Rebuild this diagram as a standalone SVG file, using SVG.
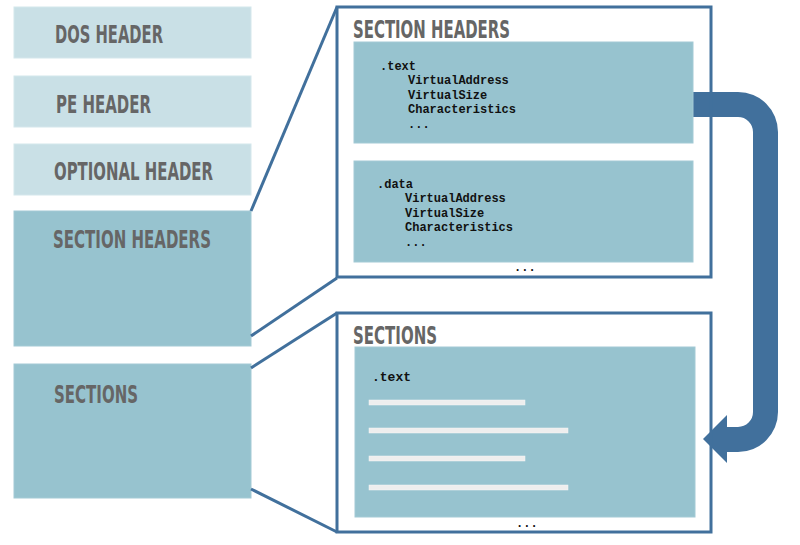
<svg xmlns="http://www.w3.org/2000/svg" width="800" height="545" viewBox="0 0 800 545">
<style>
.light{fill:#c9e0e6;stroke:#d4e7ec;stroke-width:1}
.dark{fill:#97c3cf;stroke:#a3cad5;stroke-width:1}
.frame{fill:none;stroke:#41709c;stroke-width:3}
.title{font-family:"DejaVu Sans Condensed","DejaVu Sans",sans-serif;font-weight:bold;font-size:25px;fill:#666666}
.mono{font-family:"Liberation Mono","DejaVu Sans Mono",monospace;font-weight:bold;font-size:12px;fill:#111111}
.mono13{font-family:"Liberation Mono","DejaVu Sans Mono",monospace;font-weight:bold;font-size:13px;fill:#111111}
.bar{fill:#eeeeee;stroke:#f6f6f6;stroke-width:0.5}
.conn{stroke:#41709c;stroke-width:3;fill:none}
</style>
<rect width="800" height="545" fill="#ffffff"/>
<g id="dos-header">
<rect class="light" x="14" y="7" width="237" height="51"/>
<text class="title" x="55" y="43" textLength="108" lengthAdjust="spacingAndGlyphs">DOS HEADER</text>
</g>
<g id="pe-header">
<rect class="light" x="14" y="76" width="237" height="51"/>
<text class="title" x="56" y="113" textLength="95" lengthAdjust="spacingAndGlyphs">PE HEADER</text>
</g>
<g id="optional-header">
<rect class="light" x="14" y="144" width="237" height="51"/>
<text class="title" x="54" y="180" textLength="159" lengthAdjust="spacingAndGlyphs">OPTIONAL HEADER</text>
</g>
<g id="section-headers">
<rect class="dark" x="14" y="211" width="237" height="135"/>
<text class="title" x="53" y="248" textLength="158" lengthAdjust="spacingAndGlyphs">SECTION HEADERS</text>
</g>
<g id="sections">
<rect class="dark" x="14" y="364" width="237" height="134"/>
<text class="title" x="54" y="403" textLength="84" lengthAdjust="spacingAndGlyphs">SECTIONS</text>
</g>
<g id="connectors">
<line class="conn" x1="251" y1="211" x2="337" y2="7"/>
<line class="conn" x1="251" y1="336" x2="337" y2="278"/>
<line class="conn" x1="251" y1="368" x2="337" y2="313"/>
<line class="conn" x1="251" y1="489" x2="337" y2="532"/>
<path id="flow-arrow" fill="#41709c" d="M676,92 L738,92 A40,40 0 0 1 778,132 L778,412 A40,40 0 0 1 738,452 L727,452 L727,463 L703,439 L727,415 L727,427 L738,427 A15,15 0 0 0 753,412 L753,132 A15,15 0 0 0 738,117 L676,117 Z"/>
</g>
<g id="section-headers-detail">
<rect x="337" y="7" width="374" height="270" fill="none"/>
<text class="title" x="353" y="38" textLength="157" lengthAdjust="spacingAndGlyphs">SECTION HEADERS</text>
<g id="text-header">
<rect class="dark" x="354" y="42" width="339" height="101"/>
<text class="mono" x="380" y="70">.text</text>
<text class="mono" x="408" y="84">VirtualAddress</text>
<text class="mono" x="408" y="99">VirtualSize</text>
<text class="mono" x="408" y="113">Characteristics</text>
<text class="mono" x="408" y="128">...</text>
</g>
<g id="data-header">
<rect class="dark" x="354" y="161" width="339" height="101"/>
<text class="mono" x="377" y="188">.data</text>
<text class="mono" x="405" y="202">VirtualAddress</text>
<text class="mono" x="405" y="217">VirtualSize</text>
<text class="mono" x="405" y="231">Characteristics</text>
<text class="mono" x="405" y="246">...</text>
</g>
<text class="mono" x="514" y="271">...</text>
</g>
<g id="sections-detail">
<text class="title" x="353" y="344" textLength="84" lengthAdjust="spacingAndGlyphs">SECTIONS</text>
<g id="text-section">
<rect class="dark" x="355" y="347" width="340" height="170"/>
<text class="mono13" x="372" y="381">.text</text>
<rect class="bar" x="369" y="400" width="156" height="5"/>
<rect class="bar" x="369" y="428" width="199" height="5"/>
<rect class="bar" x="369" y="456" width="156" height="5"/>
<rect class="bar" x="369" y="485" width="199" height="5"/>
</g>
<text class="mono" x="516" y="527">...</text>
</g>
<g id="frames">
<rect class="frame" x="337" y="7" width="374" height="270"/>
<rect class="frame" x="337" y="313" width="374" height="219"/>
</g>
</svg>
